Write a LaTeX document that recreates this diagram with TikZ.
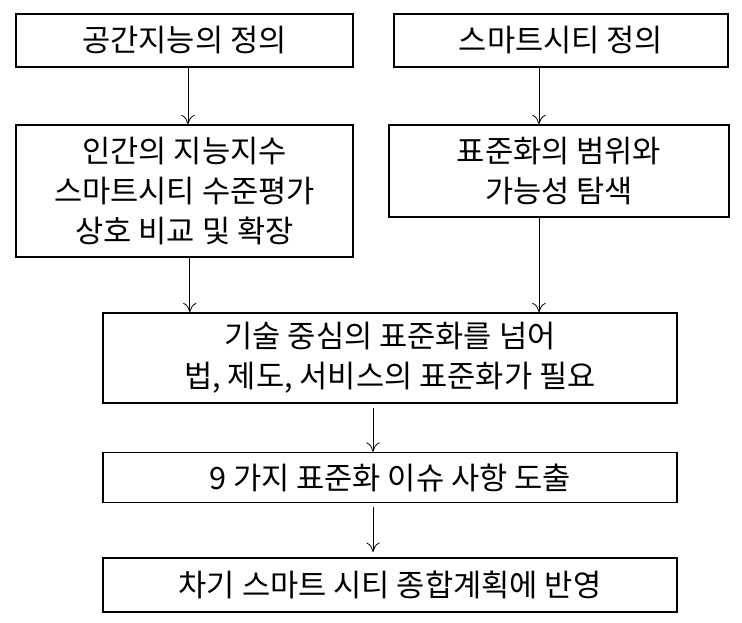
\documentclass[tikz,border=0pt]{standalone}
\usepackage{fontspec}
\newfontfamily\kr{Noto Sans CJK KR}
\usetikzlibrary{arrows.meta}

\begin{document}
\begin{tikzpicture}[x=0.75pt,y=0.75pt,yscale=-1,xscale=1,
        box/.style={draw, line width=1.1pt, align=center, inner sep=0pt, font=\kr\fontsize{23}{30}\selectfont},
        flow/.style={-{To[length=7pt,width=10pt]}, line width=0.6pt}]
        %set diagram left start at 0, and has height of 623
        \path (0,0) rectangle (742,623);

        % Text Node
        \node [box, minimum width=252.75pt, minimum height=39.75pt] (defSI) at (184.5,40.5) {공간지능의 정의};
        % Text Node
        \node [box, minimum width=250.5pt, minimum height=39.75pt] (defSC) at (561,40.5) {스마트시티 정의};
        % Text Node
        \node [box, minimum width=252.75pt, minimum height=99pt] (compare) at (184.5,191) {인간의 지능지수\\스마트시티 수준평가\\상호 비교 및 확장};
        % Text Node
        \node [box, minimum width=255pt, minimum height=69pt] (scope) at (559,171) {표준화의 범위와\\가능성 탐색};
        % Text Node
        \node [box, minimum width=430.5pt, minimum height=67.5pt] (beyond) at (390,358) {기술 중심의 표준화를 넘어\\법, 제도, 서비스의 표준화가 필요};
        % Text Node
        \node [box, minimum width=430.5pt, minimum height=37.5pt] (issues) at (390,477.5) {9 가지 표준화 이슈 사항 도출};
        % Text Node
        \node [box, minimum width=430.5pt, minimum height=40.5pt] (plan) at (390,585) {차기 스마트 시티 종합계획에 반영};

        %Straight Lines
        \draw [flow] ([xshift=2.6pt]defSI.south) -- ([xshift=2.6pt]defSI.south |- compare.north) ;
        \draw [flow] ([xshift=-16.5pt]defSC.south) -- ([xshift=-16.5pt]defSC.south |- scope.north) ;
        \draw [flow] ([xshift=4pt]compare.south) -- ([xshift=4pt]compare.south |- beyond.north) ;
        \draw [flow] ([xshift=-15pt]scope.south) -- ([xshift=-15pt]scope.south |- beyond.north) ;
        \draw [flow, shorten <=3pt] ([xshift=-12.75pt]beyond.south) -- ([xshift=-12.75pt]beyond.south |- issues.north) ;
        \draw [flow, shorten <=3pt, shorten >=4pt] ([xshift=-12.75pt]issues.south) -- ([xshift=-12.75pt]issues.south |- plan.north) ;

    \end{tikzpicture}
\end{document}
